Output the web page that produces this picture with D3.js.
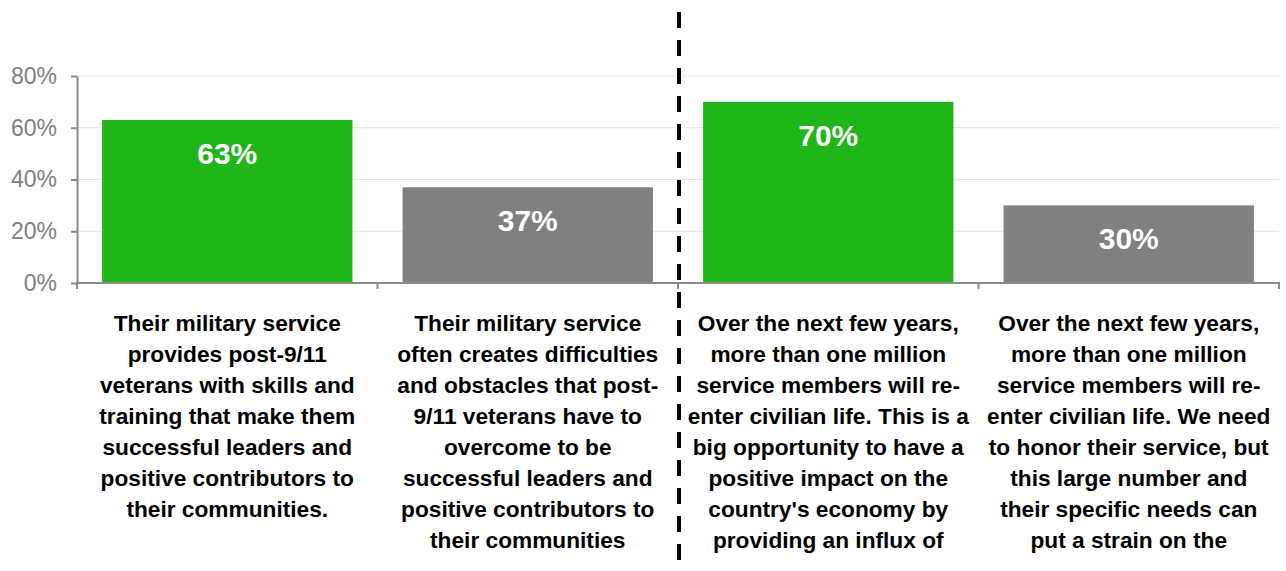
<!DOCTYPE html>
<html>
<head>
<meta charset="utf-8">
<script src="https://cdn.jsdelivr.net/npm/d3@7"></script>
<style>
  html, body { margin: 0; padding: 0; background: #fff; }
  svg { display: block; font-family: "Liberation Sans", Arial, sans-serif; }
</style>
</head>
<body>
<svg id="chart" width="1286" height="571"></svg>
<script>
const categories = ["c1", "c2", "c3", "c4"];
const values = [63, 37, 70, 30];
const barColors = ["#20b61a", "#808080", "#20b61a", "#808080"];
const yTicks = [0, 20, 40, 60, 80];
const categoryLines = [
  ["Their military service", "provides post-9/11", "veterans with skills and", "training that make them", "successful leaders and", "positive contributors to", "their communities."],
  ["Their military service", "often creates difficulties", "and obstacles that post-", "9/11 veterans have to", "overcome to be", "successful leaders and", "positive contributors to", "their communities"],
  ["Over the next few years,", "more than one million", "service members will re-", "enter civilian life. This is a", "big opportunity to have a", "positive impact on the", "country's economy by", "providing an influx of"],
  ["Over the next few years,", "more than one million", "service members will re-", "enter civilian life. We need", "to honor their service, but", "this large number and", "their specific needs can", "put a strain on the"]
];

(function () {
const svg = d3.select("#chart");
const mLeft = 77, mRight = 1279, mTop = 76, mBottom = 283;

const x = d3.scaleBand().domain(categories).range([mLeft, mRight]).paddingInner(0.167).paddingOuter(0.0835);
const xTicksScale = d3.scaleBand().domain(categories).range([mLeft, mRight]);
const y = d3.scaleLinear().domain([0, 80]).range([mBottom, mTop]);

// gridlines
svg.append("g").selectAll("line").data(yTicks.filter(d => d > 0)).join("line")
  .attr("x1", mLeft).attr("x2", mRight)
  .attr("y1", d => y(d)).attr("y2", d => y(d))
  .attr("stroke", "#e3e3e3").attr("stroke-width", 1);

// bars
svg.append("g").selectAll("rect").data(values).join("rect")
  .attr("x", (d, i) => x(categories[i]))
  .attr("width", x.bandwidth())
  .attr("y", d => y(d))
  .attr("height", d => y(0) - y(d))
  .attr("fill", (d, i) => barColors[i]);

// y axis
const yAxis = d3.axisLeft(y).tickValues(yTicks).tickFormat(d => d + "%").tickSize(6).tickSizeOuter(0);
const gy = svg.append("g").attr("transform", `translate(${mLeft},0)`).call(yAxis);
gy.select(".domain").attr("stroke", "#8c8c8c").attr("stroke-width", 2);
gy.selectAll(".tick line").attr("stroke", "#8c8c8c").attr("stroke-width", 2);
gy.selectAll(".tick text").attr("fill", "#808080").attr("font-size", 23)
  .attr("font-family", "Liberation Sans, Arial, sans-serif").attr("x", -20);

// x axis
svg.append("line").attr("x1", mLeft - 1).attr("x2", mRight + 1).attr("y1", mBottom).attr("y2", mBottom)
  .attr("stroke", "#8c8c8c").attr("stroke-width", 2);
const boundaries = categories.map(c => xTicksScale(c)).concat([mRight]);
svg.append("g").selectAll("line").data(boundaries).join("line")
  .attr("x1", d => d).attr("x2", d => d).attr("y1", mBottom).attr("y2", mBottom + 6)
  .attr("stroke", "#8c8c8c").attr("stroke-width", 2);

// value labels
svg.append("g").selectAll("text").data(values).join("text")
  .attr("x", (d, i) => x(categories[i]) + x.bandwidth() / 2)
  .attr("y", d => y(d) + 44)
  .attr("text-anchor", "middle")
  .attr("fill", "#fff").attr("font-weight", "bold").attr("font-size", 30)
  .text(d => d + "%");

// category labels
const lab = svg.append("g").selectAll("text").data(categoryLines).join("text")
  .attr("text-anchor", "middle")
  .attr("font-weight", "bold").attr("font-size", 22.7).attr("fill", "#000");
lab.each(function(lines, i) {
  const cx = xTicksScale(categories[i]) + xTicksScale.bandwidth() / 2;
  d3.select(this).selectAll("tspan").data(lines).join("tspan")
    .attr("x", cx).attr("y", (d, j) => 331 + j * 31).text(d => d);
});

// dashed divider
const midX = xTicksScale(categories[2]) + 1;
svg.append("line").attr("x1", midX).attr("x2", midX).attr("y1", 12).attr("y2", 571)
  .attr("stroke", "#000").attr("stroke-width", 4).attr("stroke-dasharray", "16,12");
})();
</script>
</body>
</html>
